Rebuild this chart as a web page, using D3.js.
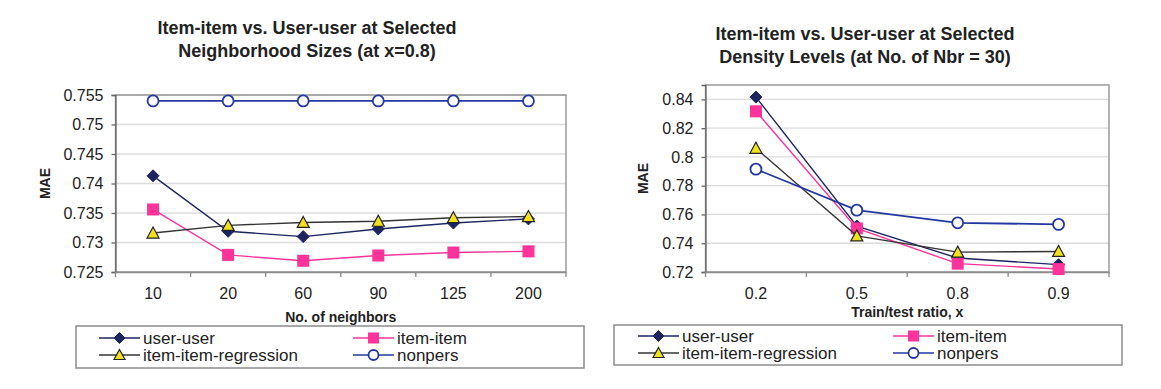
<!DOCTYPE html>
<html>
<head>
<meta charset="utf-8">
<script src="https://cdn.jsdelivr.net/npm/d3@7"></script>
<style>
  body { margin: 0; background: #fff; }
  svg text { font-family: "Liberation Sans", Arial, sans-serif; fill: #222; }
</style>
</head>
<body>
<svg id="chart" width="1161" height="389"></svg>
<script>
// left chart: neighbourhood sizes
const neighborSizes = ["10", "20", "60", "90", "125", "200"];
const nbrUserUser = [0.7413, 0.7319, 0.7310, 0.7323, 0.7333, 0.7340];
const nbrItemItem = [0.7356, 0.7279, 0.7269, 0.7278, 0.7283, 0.7285];
const nbrRegression = [0.7316, 0.7329, 0.7334, 0.7336, 0.7342, 0.7344];
const nbrNonpers = [0.754, 0.754, 0.754, 0.754, 0.754, 0.754];
const nbrTicks = [0.725, 0.73, 0.735, 0.74, 0.745, 0.75, 0.755];

// right chart: density levels
const ratios = ["0.2", "0.5", "0.8", "0.9"];
const densUserUser = [0.8416, 0.7519, 0.7297, 0.7251];
const densItemItem = [0.8317, 0.7503, 0.7258, 0.7221];
const densRegression = [0.806, 0.7451, 0.7338, 0.7343];
const densNonpers = [0.7915, 0.763, 0.7542, 0.7531];
const densTicks = [0.72, 0.74, 0.76, 0.78, 0.8, 0.82, 0.84];

const seriesNames = ["user-user", "item-item", "item-item-regression", "nonpers"];

const styles = {
    "user-user": { line: "#1c2560", marker: "diamond", fill: "#1c2560", stroke: "#1c2560" },
    "item-item": { line: "#ff3399", marker: "square", fill: "#ff3399", stroke: "#ff3399" },
    "item-item-regression": { line: "#333333", marker: "triangle", fill: "#f2e21c", stroke: "#222" },
    "nonpers": { line: "#2438a0", marker: "circle", fill: "#ffffff", stroke: "#2438a0" }
};

const svg = d3.select("#chart");

function drawMarker(g, type, x, y, s, st) {
    if (type === "diamond") {
        g.append("path")
            .attr("d", `M${x},${y - s / 2}L${x + s / 2},${y}L${x},${y + s / 2}L${x - s / 2},${y}Z`)
            .attr("fill", st.fill).attr("stroke", st.stroke).attr("stroke-width", 1);
    } else if (type === "square") {
        g.append("rect")
            .attr("x", x - s / 2).attr("y", y - s / 2)
            .attr("width", s).attr("height", s)
            .attr("fill", st.fill);
    } else if (type === "triangle") {
        g.append("path")
            .attr("d", `M${x},${y - s / 2}L${x + s / 2},${y + s / 2 - 1}L${x - s / 2},${y + s / 2 - 1}Z`)
            .attr("fill", st.fill).attr("stroke", st.stroke).attr("stroke-width", 1.2);
    } else {
        g.append("circle")
            .attr("cx", x).attr("cy", y).attr("r", s / 2 - 0.5)
            .attr("fill", st.fill).attr("stroke", st.stroke).attr("stroke-width", 1.8);
    }
}

function drawChart(cfg) {
    const g = svg.append("g");

    const x = d3.scaleBand().domain(cfg.categories).range([cfg.left, cfg.right]);
    const y = d3.scaleLinear().domain(cfg.yDomain).range([cfg.bottom, cfg.top]);

    // gridlines
    g.append("g")
        .selectAll("line")
        .data(cfg.ticks)
        .enter()
        .append("line")
        .attr("x1", cfg.left).attr("x2", cfg.right)
        .attr("y1", d => y(d)).attr("y2", d => y(d))
        .attr("stroke", "#dcdcdc").attr("stroke-width", 1.3);

    // frame
    g.append("rect")
        .attr("x", cfg.left).attr("y", cfg.top)
        .attr("width", cfg.right - cfg.left).attr("height", cfg.bottom - cfg.top)
        .attr("fill", "none").attr("stroke", "#8c8c8c").attr("stroke-width", 1.3);

    // y axis
    const yAxis = d3.axisLeft(y)
        .tickValues(cfg.ticks)
        .tickSize(4)
        .tickPadding(8)
        .tickFormat(d => String(+d.toFixed(3)));

    g.append("g")
        .attr("transform", `translate(${cfg.left},0)`)
        .call(yAxis)
        .call(a => a.select(".domain").attr("stroke", "#666").attr("stroke-width", 1.3))
        .call(a => a.selectAll(".tick line").attr("stroke", "#666").attr("stroke-width", 1.3))
        .call(a => a.selectAll("text").style("font-size", "16px").attr("fill", "#222"));

    // x axis, ticks sit between categories
    g.append("g")
        .attr("transform", `translate(0,${cfg.bottom})`)
        .call(d3.axisBottom(x).tickSize(0).tickPadding(16))
        .call(a => a.select(".domain").attr("stroke", "#8c8c8c").attr("stroke-width", 1.3))
        .call(a => a.selectAll("text").style("font-size", "16px").attr("fill", "#222"));

    const bounds = cfg.categories.map(c => x(c)).concat([cfg.right]);
    g.append("g")
        .selectAll("line")
        .data(bounds)
        .enter()
        .append("line")
        .attr("x1", d => d).attr("x2", d => d)
        .attr("y1", cfg.bottom).attr("y2", cfg.bottom + 5)
        .attr("stroke", "#8c8c8c").attr("stroke-width", 1.3);

    // series
    const cx = i => x(cfg.categories[i]) + x.bandwidth() / 2;
    cfg.series.forEach((vals, k) => {
        const st = styles[seriesNames[k]];
        const line = d3.line().x((d, i) => cx(i)).y(d => y(d));
        g.append("path")
            .datum(vals)
            .attr("d", line)
            .attr("fill", "none")
            .attr("stroke", st.line)
            .attr("stroke-width", st.marker === "circle" ? 1.8 : 1.4);
        vals.forEach((v, i) => drawMarker(g, st.marker, cx(i), y(v), 12, st));
    });

    // titles
    const title = g.append("text")
        .attr("text-anchor", "middle")
        .style("font-size", "18px").style("font-weight", "bold")
        .attr("fill", "#2a2a2a");
    cfg.title.forEach((t, i) => {
        title.append("tspan")
            .attr("x", cfg.titleX)
            .attr("y", cfg.titleY + i * 23)
            .text(t);
    });

    g.append("text")
        .attr("x", (cfg.left + cfg.right) / 2)
        .attr("y", cfg.xLabelY)
        .attr("text-anchor", "middle")
        .style("font-size", "14px").style("font-weight", "bold")
        .text(cfg.xLabel);

    g.append("text")
        .attr("transform", `translate(${cfg.yLabelX},${(cfg.top + cfg.bottom) / 2}) rotate(-90)`)
        .attr("text-anchor", "middle")
        .attr("dy", "0.35em")
        .style("font-size", "14px").style("font-weight", "bold")
        .text("MAE");

    // legend
    const L = cfg.legend;
    g.append("rect")
        .attr("x", L.x).attr("y", L.y)
        .attr("width", L.w).attr("height", L.h)
        .attr("fill", "#fff").attr("stroke", "#8c8c8c").attr("stroke-width", 1.5);

    seriesNames.forEach((name, k) => {
        const st = styles[name];
        const col = k % 2, row = Math.floor(k / 2);
        const lx = L.x + L.cols[col];
        const ly = L.y + L.rows[row];
        g.append("line")
            .attr("x1", lx).attr("x2", lx + 41)
            .attr("y1", ly).attr("y2", ly)
            .attr("stroke", st.line).attr("stroke-width", 1.4);
        drawMarker(g, st.marker, lx + 20.5, ly, 11, st);
        g.append("text")
            .attr("x", lx + 44)
            .attr("y", ly + 6)
            .style("font-size", "17px")
            .text(name);
    });
}

drawChart({
    categories: neighborSizes,
    series: [nbrUserUser, nbrItemItem, nbrRegression, nbrNonpers],
    ticks: nbrTicks,
    yDomain: [0.725, 0.755],
    left: 115.5, right: 566, top: 95, bottom: 272,
    title: ["Item-item vs. User-user at Selected", "Neighborhood Sizes (at x=0.8)"],
    titleX: 307, titleY: 34,
    xLabel: "No. of neighbors", xLabelY: 321.5,
    yLabelX: 45,
    legend: { x: 76, y: 326, w: 508, h: 42, cols: [23, 277], rows: [12, 29] }
});

drawChart({
    categories: ratios,
    series: [densUserUser, densItemItem, densRegression, densNonpers],
    ticks: densTicks,
    yDomain: [0.72, 0.85],
    left: 705.5, right: 1109, top: 85, bottom: 272,
    title: ["Item-item vs. User-user at Selected", "Density Levels (at No. of Nbr = 30)"],
    titleX: 865, titleY: 40,
    xLabel: "Train/test ratio, x", xLabelY: 316.5,
    yLabelX: 643,
    legend: { x: 614, y: 325, w: 508, h: 40, cols: [24, 279], rows: [11, 28] }
});
</script>
</body>
</html>
